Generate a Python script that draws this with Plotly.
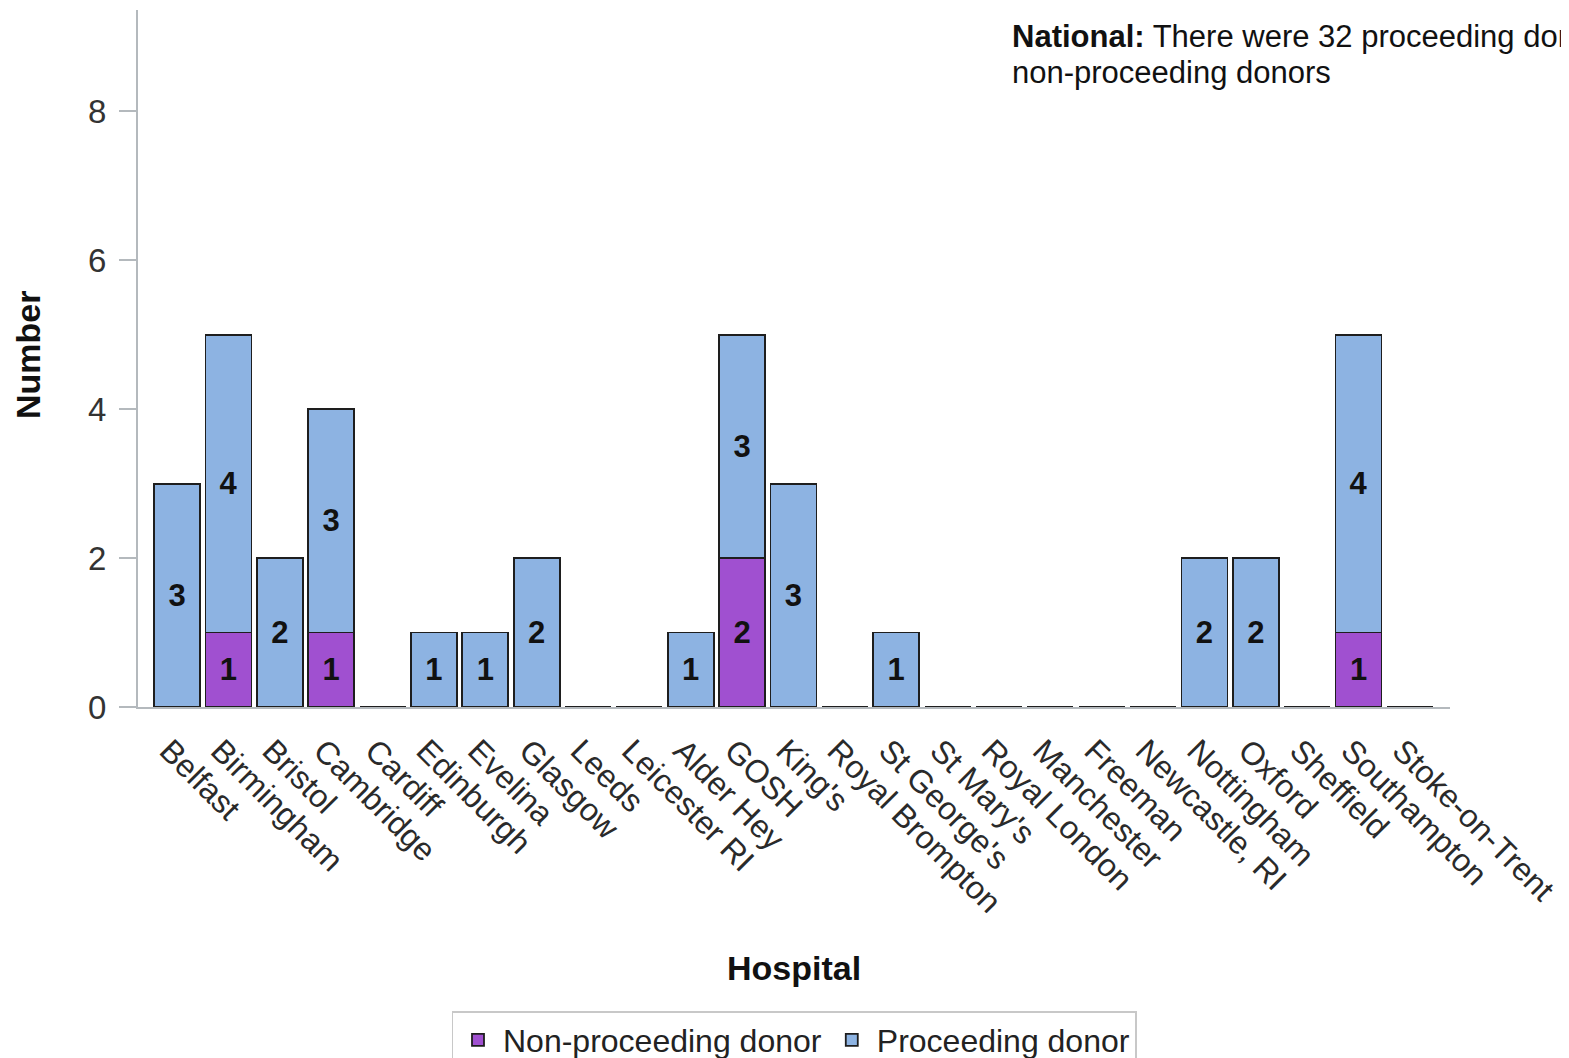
import plotly.graph_objects as go

hospitals = ["Belfast", "Birmingham", "Bristol", "Cambridge", "Cardiff", "Edinburgh",
             "Evelina", "Glasgow", "Leeds", "Leicester RI", "Alder Hey", "GOSH", "King's",
             "Royal Brompton", "St George's", "St Mary's", "Royal London", "Manchester",
             "Freeman", "Newcastle, RI", "Nottingham", "Oxford", "Sheffield", "Southampton",
             "Stoke-on-Trent"]
non_proceeding = [0, 1, 0, 1, 0, 0, 0, 0, 0, 0, 0, 2, 0, 0, 0, 0, 0, 0, 0, 0, 0, 0, 0, 1, 0]
proceeding = [3, 4, 2, 3, 0, 1, 1, 2, 0, 0, 1, 3, 3, 0, 1, 0, 0, 0, 0, 0, 2, 2, 0, 4, 0]
series_names = ["Non-proceeding donor", "Proceeding donor"]
y_ticks = [0, 2, 4, 6, 8]
note_line1 = "<b>National:</b> There were 32 proceeding donors and 5"
note_line2 = "non-proceeding donors"

FONT = "Liberation Sans, Arial, sans-serif"
colors = ["#A050D0", "#8DB3E2"]

# page has an 8px body margin: plot area spans screen x 138..1450, y 10..707
fig = go.Figure()
for name, vals, col in zip(series_names, [non_proceeding, proceeding], colors):
    fig.add_trace(go.Bar(
        x=hospitals, y=vals, name=name,
        marker=dict(color=col, line=dict(color="#1E1E1E", width=1.8)),
        text=[str(v) if v else "" for v in vals],
        textposition="inside", insidetextanchor="middle",
        constraintext="none",
        textfont=dict(family=FONT, size=31, color="#111111", weight="bold"),
    ))

fig.update_layout(
    barmode="stack", bargap=0.105,
    width=1561, height=1050,
    margin=dict(l=130, r=119, t=2, b=351, autoexpand=False),
    plot_bgcolor="white", paper_bgcolor="white",
    font=dict(family=FONT, size=30, color="#222222"),
    showlegend=True,
    legend=dict(orientation="h", x=0.5, xanchor="center", y=(707 - 1011) / 697,
                yanchor="top",
                bordercolor="#C8C8C8", borderwidth=1.5, itemwidth=40,
                font=dict(family=FONT, size=32, color="#222222"),
                traceorder="normal"),
    uniformtext=dict(mode=False),
)
fig.update_xaxes(
    showline=True, linecolor="#B4B9BD", linewidth=2, ticks="",
    tickangle=45, tickfont=dict(family=FONT, size=32, color="#2a2a2a"),
    ticklabelstandoff=10, ticklabelshift=-8,
    range=[-0.76, 24.78], showgrid=False, zeroline=False, automargin=False,
)
fig.update_yaxes(
    showline=True, linecolor="#B4B9BD", linewidth=2,
    ticks="outside", ticklen=17, tickwidth=2, tickcolor="#B4B9BD",
    tickvals=y_ticks, tickfont=dict(family=FONT, size=33, color="#333333"),
    ticklabelstandoff=6,
    range=[0, 9.36], showgrid=False, zeroline=False, automargin=False,
)
fig.add_annotation(text="<b>Hospital</b>", xref="paper", yref="paper",
                   x=0.5, y=(707 - 968) / 697, xanchor="center", yanchor="middle",
                   showarrow=False, font=dict(family=FONT, size=34, color="#111111"))
fig.add_annotation(text="<b>Number</b>", xref="paper", yref="paper",
                   x=(28 - 138) / 1312, y=(707 - 355) / 697, xanchor="center", yanchor="middle",
                   textangle=-90, showarrow=False,
                   font=dict(family=FONT, size=34, color="#111111"))
for line, ypix in [(note_line1, 36), (note_line2, 73)]:
    fig.add_annotation(text=line, xref="paper", yref="paper",
                       x=(1010 - 138) / 1312, y=(707 - ypix) / 697,
                       xanchor="left", yanchor="middle",
                       align="left", showarrow=False,
                       font=dict(family=FONT, size=31, color="#111111"))

fig.write_html("out.html")
